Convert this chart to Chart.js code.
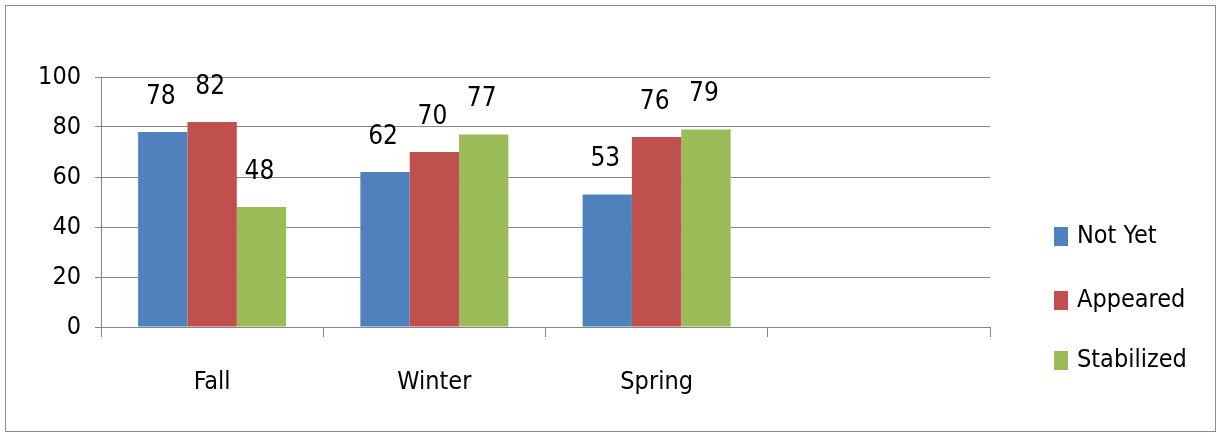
<!DOCTYPE html>
<html>
<head>
<meta charset="utf-8">
<script src="https://cdn.jsdelivr.net/npm/chart.js@4.4.1/dist/chart.umd.min.js"></script>
<style>
  body { margin: 0; background: #fff; }
  #wrap { position: relative; width: 1217px; height: 433px; }
  #frame {
    position: absolute; left: 5px; top: 5px; width: 1211px; height: 427px;
    box-sizing: border-box; border: 1px solid #8c8c8c; pointer-events: none;
  }
</style>
</head>
<body>
<div id="wrap">
  <canvas id="myChart" width="1217" height="433"></canvas>
  <div id="frame"></div>
</div>
<script>
const categories = ['Fall', 'Winter', 'Spring', ''];
const notYet = [78, 62, 53, null];
const appeared = [82, 70, 76, null];
const stabilized = [48, 77, 79, null];
const seriesNames = ['Not Yet', 'Appeared', 'Stabilized'];
const seriesColors = ['#4F81BD', '#C0504D', '#9BBB59'];
const yMin = 0, yMax = 100, yStep = 20;

const FONT = "'Liberation Sans Narrow', 'DejaVu Sans Condensed', sans-serif";

// value labels above each bar
const barLabels = {
    id: 'barLabels',
    afterDatasetsDraw(chart) {
        const ctx = chart.ctx;
        ctx.save();
        ctx.font = '26px ' + FONT;
        ctx.fillStyle = '#000';
        ctx.textAlign = 'center';
        ctx.textBaseline = 'middle';
        chart.data.datasets.forEach((ds, i) => {
            chart.getDatasetMeta(i).data.forEach((bar, j) => {
                if (ds.data[j] == null) return;
                ctx.fillText(ds.data[j], bar.x - 2, bar.y - 35);
            });
        });
        ctx.restore();
    }
};

// legend on the right, square markers
const sideLegend = {
    id: 'sideLegend',
    afterDraw(chart) {
        const ctx = chart.ctx;
        const rows = [236.5, 300.5, 360.5];
        ctx.save();
        ctx.font = '25px ' + FONT;
        ctx.textBaseline = 'middle';
        chart.data.datasets.forEach((ds, i) => {
            ctx.fillStyle = ds.backgroundColor;
            ctx.fillRect(1054, rows[i] - 9.5, 14, 19);
            ctx.fillStyle = '#000';
            ctx.fillText(ds.label, 1077, rows[i]);
        });
        ctx.restore();
    }
};

const data = {
    labels: categories,
    datasets: [notYet, appeared, stabilized].map((vals, i) => ({
        label: seriesNames[i],
        data: vals,
        backgroundColor: seriesColors[i],
        borderWidth: 0,
        categoryPercentage: 0.666,
        barPercentage: 1.0
    }))
};

const config = {
    type: 'bar',
    data: data,
    options: {
        responsive: false,
        animation: false,
        devicePixelRatio: 1,
        layout: { padding: { top: 77, left: 0, right: 227, bottom: 0 } },
        plugins: {
            legend: { display: false },
            tooltip: { enabled: false }
        },
        scales: {
            x: {
                afterFit: (scale) => { scale.height = 106; },
                grid: { drawOnChartArea: false, offset: true, tickLength: 10, color: '#868686', lineWidth: 1 },
                border: { display: true, color: '#868686' },
                ticks: { font: { size: 25, family: FONT }, color: '#000', padding: 30 }
            },
            y: {
                min: yMin,
                max: yMax,
                afterFit: (scale) => { scale.width = 101; },
                grid: { color: '#868686', lineWidth: 1, tickLength: 6 },
                border: { display: true, color: '#868686' },
                ticks: { stepSize: yStep, font: { size: 25, family: FONT }, color: '#000', padding: 14 }
            }
        }
    },
    plugins: [barLabels, sideLegend]
};

const ctx = document.getElementById('myChart').getContext('2d');
new Chart(ctx, config);
</script>
</body>
</html>
